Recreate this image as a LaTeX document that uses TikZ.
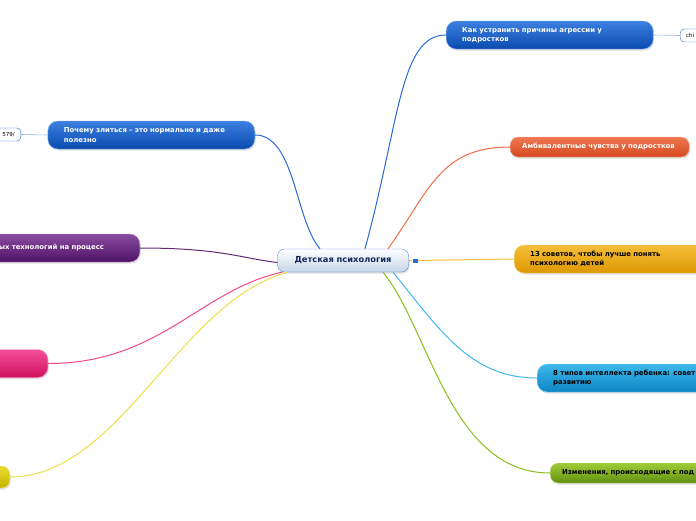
\documentclass[tikz,border=0pt]{standalone}
\usepackage{fontspec}
\setmainfont{DejaVu Sans}
\usetikzlibrary{shadows}

\definecolor{navy}{HTML}{14285A}
\definecolor{linkblue}{HTML}{2A6AD8}
\definecolor{rootbot}{HTML}{C4D6E8}
\definecolor{bluetop}{HTML}{3C80E0}
\definecolor{bluebot}{HTML}{0A4AB0}
\definecolor{orangetop}{HTML}{F07850}
\definecolor{orangebot}{HTML}{D44820}
\definecolor{goldtop}{HTML}{F6BE3A}
\definecolor{goldbot}{HTML}{DC9800}
\definecolor{cyantop}{HTML}{40B8EC}
\definecolor{cyanbot}{HTML}{0A86C4}
\definecolor{greentop}{HTML}{A0CC38}
\definecolor{greenbot}{HTML}{629010}
\definecolor{greenline}{HTML}{8CBC1C}
\definecolor{purpletop}{HTML}{8A4CA0}
\definecolor{purplebot}{HTML}{501264}
\definecolor{pinktop}{HTML}{F4509A}
\definecolor{pinkbot}{HTML}{D0105C}
\definecolor{yellowtop}{HTML}{ECDC30}
\definecolor{yellowbot}{HTML}{C4B400}

\begin{document}
\begin{tikzpicture}[x=1pt, y=-1pt,
    topic/.style={rounded corners=10pt, minimum height=28pt, text width=175pt,
        inner xsep=16pt, inner ysep=2pt, align=left, text=white,
        font=\fontsize{6.9}{9.2}\selectfont\bfseries,
        drop shadow={shadow xshift=1pt, shadow yshift=-1.5pt, opacity=0.25}},
    flat/.style={topic, rounded corners=8pt, minimum height=20pt},
    blue topic/.style={draw=bluetop!60!white, top color=bluetop, bottom color=bluebot},
    leaf/.style={draw=linkblue, fill=white, rounded corners=4pt, minimum height=13pt,
        inner xsep=6pt, inner ysep=0pt, text=black, font=\fontsize{5.5}{6}\selectfont},
    branch/.style={line width=1pt}]

    \useasboundingbox (0,0) rectangle (696,520);
    \clip (0,0) rectangle (696,520);

    % root
    \node[draw=linkblue!80, top color=white, bottom color=rootbot,
        rounded corners=7pt, minimum width=131pt, minimum height=23pt,
        text=navy, font=\fontsize{8.3}{10}\selectfont\bfseries,
        drop shadow={shadow xshift=1pt, shadow yshift=-1.5pt, opacity=0.25}]
        (root) at (343,260.5) {Детская психология};
    \node[draw=white, fill=linkblue, minimum size=5.5pt, inner sep=0pt] (fold) at (415,260.5) {};

    % right side
    \node[topic, blue topic, anchor=west] (agr) at (446,35)
        {Как устранить причины агрессии у\\подростков};
    \node[flat, draw=orangetop!60!white, top color=orangetop, bottom color=orangebot,
        text width=155pt, inner xsep=12pt, anchor=west] (ambi) at (510,147)
        {Амбивалентные чувства у подростков};
    \node[topic, draw=goldtop!60!white, top color=goldtop, bottom color=goldbot,
        text=black, anchor=west] (sovet) at (514,259)
        {13 советов, чтобы лучше понять\\психологию детей};
    \node[topic, draw=cyantop!60!white, top color=cyantop, bottom color=cyanbot,
        text=black, anchor=west] (intel) at (537,378)
        {8 типов интеллекта ребенка: совет\\развитию};
    \node[flat, draw=greentop!60!white, top color=greentop, bottom color=greenbot,
        text=black, inner xsep=12pt, anchor=west] (izm) at (550,473)
        {Изменения, происходящие с под};
    \node[leaf, anchor=west] (chi) at (680,35.5) {chi};

    % left side
    \node[topic, blue topic, anchor=east] (zlit) at (255,135)
        {Почему злиться – это нормально и даже\\полезно};
    \node[topic, draw=purpletop!60!white, top color=purpletop, bottom color=purplebot,
        text width=125pt, anchor=east] (tech) at (140,248)
        {ых технологий на процесс\\[7pt]};
    \node[topic, draw=pinktop!60!white, top color=pinktop, bottom color=pinkbot,
        anchor=east] (pink) at (48,363.5) {};
    \node[flat, minimum height=22pt, draw=yellowtop!60!white, top color=yellowtop, bottom color=yellowbot,
        text width=120pt, anchor=east] (yell) at (10,477) {};
    \node[leaf, anchor=east] (url) at (21,134.5) {579/};

    % branches
    \draw[branch, linkblue] ([xshift=22pt]root.north) .. controls (400,120) and (400,35) .. (agr.west);
    \draw[branch, orangetop!90!red] ([xshift=45pt]root.north) .. controls (430,190) and (440,147) .. (ambi.west);
    \draw[branch, goldtop] (root.east) -- (fold) -- (sovet.west);
    \draw[branch, cyantop] ([xshift=50pt]root.south) .. controls (440,330) and (470,378) .. (intel.west);
    \draw[branch, greenline] ([xshift=40pt]root.south) .. controls (430,330) and (450,473) .. (izm.west);
    \draw[branch, linkblue] ([xshift=-23pt]root.north) .. controls (295,220) and (295,135) .. (zlit.east);
    \draw[branch, purplebot!90!white] ([yshift=-2pt]root.west) .. controls (240,258) and (220,248) .. (tech.east);
    \draw[branch, pinktop!90!red] ([xshift=-61pt]root.south) .. controls (200,290) and (160,363.5) .. (pink.east);
    \draw[branch, yellowtop!90!white] ([xshift=-55pt]root.south) .. controls (180,300) and (120,477) .. (yell.east);
    \draw[linkblue!50, line width=0.6pt] (agr.east) -- (chi.west);
    \draw[linkblue!50, line width=0.6pt] (zlit.west) -- (url.east);
\end{tikzpicture}
\end{document}
